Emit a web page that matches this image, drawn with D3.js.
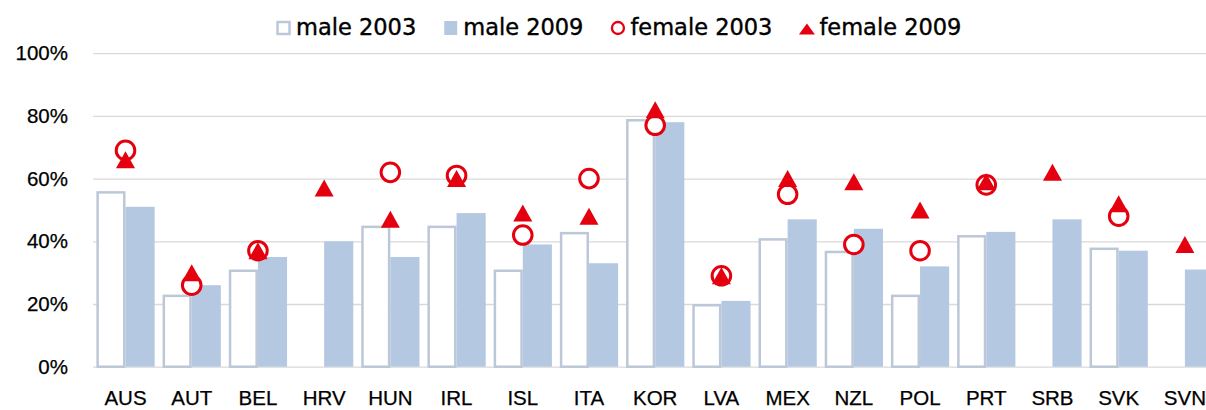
<!DOCTYPE html>
<html>
<head>
<meta charset="utf-8">
<script src="https://cdn.jsdelivr.net/npm/d3@7"></script>
<style>
  body { margin: 0; background: #fff; }
  svg { display: block; font-family: "DejaVu Sans", sans-serif; }
  .axis text { fill: #000; font-size: 20.5px; stroke: #000; stroke-width: 0.25px; }
  .legend text { fill: #000; font-size: 22.5px; stroke: #000; stroke-width: 0.4px; }
</style>
</head>
<body>
<svg id="chart" width="1206" height="410"></svg>
<script>
//categories (countries)
const countries = ["AUS","AUT","BEL","HRV","HUN","IRL","ISL","ITA","KOR","LVA","MEX","NZL","POL","PRT","SRB","SVK","SVN"];
//series values in %, null = no data
const male2003   = [56, 23, 31, null, 45, 45, 31, 43, 79, 20, 41, 37, 23, 42, null, 38, null];
const male2009   = [51, 26, 35, 40, 35, 49, 39, 33, 78, 21, 47, 44, 32, 43, 47, 37, 31];
const female2003 = [69, 26, 37, null, 62, 61, 42, 60, 77, 29, 55, 39, 37, 58, null, 48, null];
const female2009 = [66, 30, 37, 57, 47, 60, 49, 48, 82, 29, 60, 59, 50, 59, 62, 52, 39];
//y ticks
const yTicks = [0, 20, 40, 60, 80, 100];
const legendLabels = ["male 2003", "male 2009", "female 2003", "female 2009"];

const red = "#E5000F";
const barBlue = "#B5C8E1";
const outline = "#BCC8D8";
const gridColor = "#D9D9D9";

const svg = d3.select("#chart");
const plotLeft = 93, plotRight = 1218, plotTop = 53.2, plotBottom = 366.7;

//scales
const x = d3.scaleBand()
  .domain(countries)
  .range([92.4, plotRight])
  .paddingInner(0.12)
  .paddingOuter(0.06);
const x1 = d3.scaleBand().domain([0, 1]).range([0, x.bandwidth()]);
const y = d3.scaleLinear().domain([0, 100]).range([plotBottom, plotTop]);

//y axis with grid lines
const yAxis = d3.axisLeft(y)
  .tickValues(yTicks)
  .tickFormat(d => d + "%")
  .tickSize(-(plotRight - plotLeft))
  .tickPadding(25);
const gy = svg.append("g").attr("class", "axis").attr("transform", "translate(" + plotLeft + ",0)").call(yAxis);
gy.select(".domain").remove();
gy.selectAll(".tick line").attr("stroke", gridColor).attr("stroke-width", 1.3);

//bars: male 2003 (outlined white) and male 2009 (filled)
const sw = 2.5;
const groups = svg.append("g").selectAll("g")
  .data(countries)
  .enter().append("g")
  .attr("transform", d => "translate(" + x(d) + ",0)");

groups.filter((d, i) => male2003[i] != null)
  .append("rect")
  .attr("x", x1(0) + sw / 2)
  .attr("y", d => y(male2003[countries.indexOf(d)]) + sw / 2)
  .attr("width", x1.bandwidth() - sw)
  .attr("height", d => y(0) - y(male2003[countries.indexOf(d)]) - sw / 2)
  .attr("fill", "#fff")
  .attr("stroke", outline)
  .attr("stroke-width", sw);

groups.append("rect")
  .attr("x", x1(1))
  .attr("y", d => y(male2009[countries.indexOf(d)]))
  .attr("width", x1.bandwidth())
  .attr("height", d => y(0) - y(male2009[countries.indexOf(d)]))
  .attr("fill", barBlue);

//markers
const cx = d => x(d) + x.bandwidth() / 2;
const tri = (w, h) => "M0," + (-h / 2) + "L" + (w / 2) + "," + (h / 2) + "L" + (-w / 2) + "," + (h / 2) + "Z";

svg.append("g").selectAll("circle")
  .data(countries.filter((d, i) => female2003[i] != null))
  .enter().append("circle")
  .attr("cx", cx)
  .attr("cy", d => y(female2003[countries.indexOf(d)]))
  .attr("r", 9.3)
  .attr("fill", "#fff")
  .attr("stroke", red)
  .attr("stroke-width", 3);

svg.append("g").selectAll("path")
  .data(countries)
  .enter().append("path")
  .attr("d", tri(19, 17))
  .attr("transform", d => "translate(" + cx(d) + "," + y(female2009[countries.indexOf(d)]) + ")")
  .attr("fill", red);

//x axis labels
const xAxis = d3.axisBottom(x).tickSize(0).tickPadding(24);
const gx = svg.append("g").attr("class", "axis").attr("transform", "translate(0," + plotBottom + ")").call(xAxis);
gx.select(".domain").remove();

//legend
const legend = svg.append("g").attr("class", "legend").attr("transform", "translate(276,0)");
let lx = 0;
const ly = 28;
legendLabels.forEach((label, i) => {
  const item = legend.append("g").attr("transform", "translate(" + lx + ",0)");
  if (i === 0) {
    item.append("rect").attr("x", 1.5).attr("y", ly - 6).attr("width", 12).attr("height", 12)
      .attr("fill", "#fff").attr("stroke", outline).attr("stroke-width", 2.5);
  } else if (i === 1) {
    item.append("rect").attr("x", 1).attr("y", ly - 7).attr("width", 13).attr("height", 14).attr("fill", barBlue);
  } else if (i === 2) {
    item.append("circle").attr("cx", 7.5).attr("cy", ly).attr("r", 6).attr("fill", "#fff")
      .attr("stroke", red).attr("stroke-width", 2.3);
  } else {
    item.append("path").attr("d", tri(16, 11)).attr("transform", "translate(7.5," + (ly + 1) + ")").attr("fill", red);
  }
  const t = item.append("text").attr("x", 20).attr("y", 34.5).text(label);
  lx += 20 + t.node().getComputedTextLength() + 27;
});
</script>
</body>
</html>
